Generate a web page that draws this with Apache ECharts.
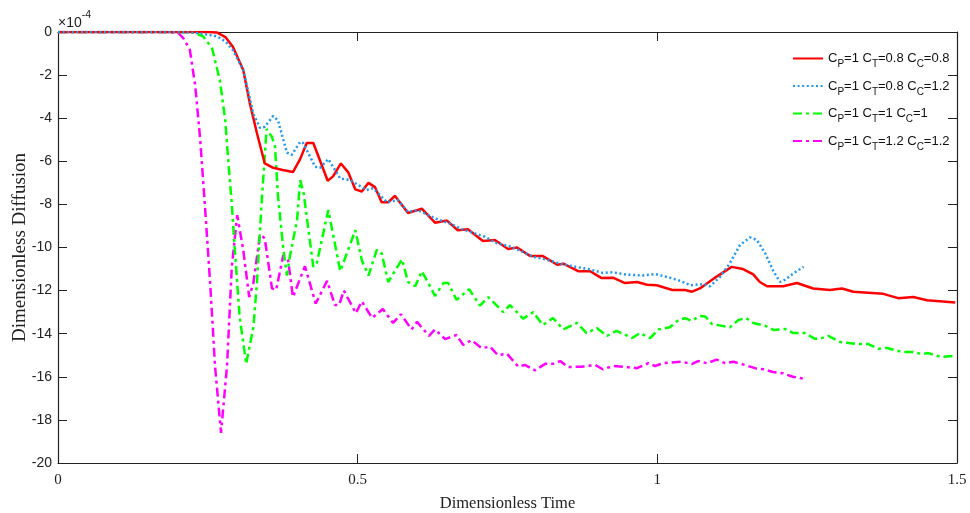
<!DOCTYPE html>
<html>
<head>
<meta charset="utf-8">
<script src="https://cdn.jsdelivr.net/npm/echarts@6/dist/echarts.min.js"></script>
<style>
html,body{margin:0;padding:0;background:#fff;}
#c{width:970px;height:513px;}
</style>
</head>
<body>
<div id="c"></div>
<script>
// Legend names (C_X marks a subscript)
var names = [
  'C_P=1 C_T=0.8 C_C=0.8',
  'C_P=1 C_T=0.8 C_C=1.2',
  'C_P=1 C_T=1 C_C=1',
  'C_P=1 C_T=1.2 C_C=1.2'
];
var xTicks = [0, 0.5, 1, 1.5];
var yTicks = [0, -2, -4, -6, -8, -10, -12, -14, -16, -18, -20];

// Series 1 (red, solid)
var tRed = [0,0.25,0.265,0.28,0.292,0.309,0.320,0.332,0.345,0.359,0.375,0.392,0.404,0.415,0.426,0.45,0.459,0.472,0.484,0.496,0.507,0.518,0.529,0.540,0.551,0.562,0.584,0.607,0.629,0.649,0.667,0.684,0.709,0.729,0.751,0.766,0.788,0.809,0.833,0.843,0.868,0.888,0.907,0.926,0.946,0.966,0.983,0.999,1.025,1.046,1.058,1.071,1.099,1.124,1.143,1.160,1.171,1.183,1.21,1.233,1.26,1.288,1.308,1.327,1.377,1.402,1.427,1.45,1.497];
var vRed = [0,0,-0.02,-0.25,-0.7,-1.76,-3.3,-4.7,-6.1,-6.3,-6.4,-6.5,-5.9,-5.15,-5.15,-6.9,-6.7,-6.1,-6.5,-7.3,-7.4,-7.0,-7.2,-7.9,-7.9,-7.6,-8.4,-8.2,-8.85,-8.75,-9.2,-9.15,-9.7,-9.65,-10.07,-10.0,-10.4,-10.4,-10.8,-10.75,-11.1,-11.1,-11.42,-11.4,-11.65,-11.6,-11.73,-11.75,-11.97,-11.97,-12.05,-11.9,-11.35,-10.9,-11.0,-11.25,-11.6,-11.8,-11.8,-11.65,-11.9,-11.97,-11.9,-12.05,-12.15,-12.35,-12.3,-12.45,-12.55];

// Series 2 (blue, dotted)
var tBlue = [0,0.2,0.225,0.245,0.265,0.28,0.292,0.309,0.326,0.337,0.345,0.359,0.367,0.382,0.390,0.404,0.409,0.429,0.437,0.451,0.471,0.487,0.515,0.526,0.549,0.567,0.584,0.601,0.633,0.651,0.674,0.687,0.712,0.732,0.754,0.771,0.793,0.813,0.838,0.86,0.885,0.909,0.926,0.949,0.976,0.996,1.021,1.038,1.055,1.077,1.088,1.105,1.121,1.138,1.155,1.166,1.18,1.194,1.205,1.213,1.227,1.244];
var vBlue = [0,0,-0.03,-0.1,-0.2,-0.45,-0.85,-1.76,-3.8,-4.45,-4.4,-3.9,-4.1,-5.6,-5.7,-5.1,-5.15,-6.25,-6.3,-5.9,-6.8,-6.87,-7.33,-7.25,-7.9,-7.8,-8.35,-8.27,-8.7,-8.85,-9.15,-9.27,-9.5,-9.8,-9.95,-10.15,-10.43,-10.55,-10.75,-10.88,-11.0,-11.18,-11.15,-11.26,-11.3,-11.23,-11.4,-11.55,-11.75,-11.7,-11.8,-11.35,-10.73,-9.88,-9.53,-9.65,-10.27,-11.12,-11.6,-11.5,-11.2,-10.9];

// Series 3 (green, dash-dot)
var tGreen = [0,0.2,0.225,0.242,0.257,0.27,0.279,0.284,0.29,0.295,0.303,0.314,0.326,0.332,0.34,0.348,0.357,0.362,0.367,0.376,0.382,0.387,0.399,0.404,0.41,0.426,0.432,0.451,0.471,0.496,0.507,0.518,0.532,0.54,0.551,0.574,0.584,0.596,0.607,0.618,0.629,0.643,0.651,0.665,0.686,0.704,0.718,0.743,0.754,0.776,0.793,0.809,0.826,0.843,0.866,0.882,0.899,0.916,0.932,0.958,0.971,0.988,1.002,1.021,1.035,1.046,1.057,1.071,1.08,1.091,1.121,1.135,1.148,1.16,1.18,1.194,1.213,1.227,1.246,1.263,1.271,1.285,1.305,1.333,1.352,1.369,1.383,1.408,1.427,1.441,1.452,1.474,1.497];
var vGreen = [0,0,-0.02,-0.2,-0.75,-2.23,-4.08,-5.94,-8.0,-10.1,-13.2,-15.4,-13.7,-11.6,-7.8,-4.5,-4.87,-5.3,-7.6,-10.1,-11.3,-10.4,-8.7,-6.87,-7.5,-10.9,-10.7,-8.26,-11.1,-9.2,-10.6,-11.3,-10.1,-10.27,-11.6,-10.55,-11.6,-11.8,-11.1,-11.65,-12.25,-11.65,-11.65,-12.43,-11.93,-12.7,-12.3,-13.0,-12.67,-13.3,-13.0,-13.6,-13.27,-13.8,-13.5,-13.97,-13.74,-14.1,-13.87,-14.2,-13.97,-14.2,-13.8,-13.7,-13.37,-13.28,-13.4,-13.18,-13.2,-13.55,-13.7,-13.37,-13.27,-13.5,-13.63,-13.83,-13.78,-13.97,-13.97,-14.24,-14.24,-14.1,-14.38,-14.48,-14.48,-14.7,-14.66,-14.85,-14.85,-14.94,-14.9,-15.08,-15.03];

// Series 4 (magenta, dash-dot)
var tMag = [0,0.18,0.2,0.209,0.22,0.229,0.237,0.245,0.254,0.262,0.272,0.282,0.29,0.299,0.309,0.319,0.326,0.337,0.345,0.357,0.364,0.376,0.384,0.392,0.412,0.43,0.449,0.462,0.469,0.477,0.497,0.507,0.524,0.542,0.559,0.572,0.59,0.599,0.619,0.629,0.646,0.665,0.676,0.69,0.707,0.721,0.734,0.749,0.768,0.779,0.796,0.813,0.826,0.838,0.851,0.874,0.896,0.909,0.926,0.949,0.966,0.985,0.996,1.01,1.04,1.058,1.068,1.083,1.099,1.113,1.127,1.146,1.163,1.177,1.193,1.21,1.226,1.246];
var vMag = [0,0,-0.03,-0.28,-0.83,-2.5,-4.9,-8.0,-11.7,-15.5,-18.6,-15.5,-10.9,-8.5,-10.1,-12.3,-11.66,-9.4,-9.57,-11.9,-11.97,-10.35,-10.6,-12.3,-10.87,-12.6,-11.55,-12.67,-12.67,-12.0,-13.05,-12.5,-13.27,-12.85,-13.5,-13.1,-13.8,-13.45,-14.1,-13.8,-14.25,-14.06,-14.52,-14.3,-14.67,-14.6,-15.0,-14.93,-15.53,-15.45,-15.7,-15.4,-15.4,-15.27,-15.55,-15.53,-15.45,-15.65,-15.5,-15.55,-15.6,-15.37,-15.5,-15.37,-15.3,-15.4,-15.27,-15.37,-15.2,-15.37,-15.3,-15.45,-15.6,-15.65,-15.78,-15.84,-16.0,-16.1];

function zip(t, v){ var out=[]; for (var i=0;i<t.length;i++) out.push([t[i], v[i]]); return out; }

function richName(name){
  return name.split(' ').map(function(part){
    var m = part.match(/^C_(\w)(.*)$/);
    return '{n|C}{s|' + m[1] + '}{n|' + m[2] + '}';
  }).join('{n| }');
}

var chart = echarts.init(document.getElementById('c'), null, {renderer:'canvas'});
var tickStyle = {show:true, inside:true, length:9, lineStyle:{color:'#222', width:1}};
var lineStyleAx = {show:true, onZero:false, lineStyle:{color:'#222', width:1.2}};

var option = {
  animation:false,
  backgroundColor:'#fff',
  grid:{left:58, top:32, right:13, bottom:50, containLabel:false, outerBoundsMode:'none'},
  xAxis:[{
    type:'value', min:0, max:1.5, interval:0.5, position:'bottom',
    axisLine:lineStyleAx, axisTick:tickStyle, splitLine:{show:false},
    axisLabel:{color:'#222', fontFamily:'Liberation Serif', fontSize:15, margin:10,
      formatter:function(v){ return xTicks.indexOf(v)>=0 ? String(v) : ''; }},
    name:'Dimensionless Time', nameLocation:'middle', nameGap:32, nameMoveOverlap:false,
    nameTextStyle:{color:'#222', fontFamily:'Liberation Serif', fontSize:16.5}
  },{
    type:'value', min:0, max:1.5, interval:0.5, position:'top',
    axisLine:lineStyleAx, axisTick:tickStyle, axisLabel:{show:false}, splitLine:{show:false}
  }],
  yAxis:[{
    type:'value', min:-20, max:0, interval:2, position:'left',
    axisLine:lineStyleAx, axisTick:tickStyle, splitLine:{show:false},
    axisLabel:{color:'#222', fontFamily:'Liberation Sans', fontSize:14, margin:6,
      formatter:function(v){ return yTicks.indexOf(v)>=0 ? String(v) : ''; }},
    name:'Dimensionless Diffusion', nameLocation:'middle', nameGap:28, nameRotate:90, nameMoveOverlap:false,
    nameTextStyle:{color:'#222', fontFamily:'Liberation Serif', fontSize:19}
  },{
    type:'value', min:-20, max:0, interval:2, position:'right',
    axisLine:lineStyleAx, axisTick:tickStyle, axisLabel:{show:false}, splitLine:{show:false}
  }],
  legend:{
    orient:'vertical', left:787, top:47, itemWidth:30, itemHeight:12, itemGap:10,
    data:names,
    itemStyle:{opacity:0, color:'transparent', borderWidth:0},
    formatter:function(name){ return richName(name); },
    textStyle:{
      color:'#111',
      rich:{
        n:{fontFamily:'Liberation Sans', fontSize:13, lineHeight:22, verticalAlign:'middle', color:'#111'},
        s:{fontFamily:'Liberation Sans', fontSize:10, lineHeight:10, verticalAlign:'bottom', color:'#111'}
      }
    }
  },
  graphic:[{
    type:'text', left:58, top:10,
    style:{
      text:'{a|×10}{b|-4}',
      rich:{
        a:{fontFamily:'Liberation Sans', fontSize:14, fill:'#222', lineHeight:20, verticalAlign:'bottom'},
        b:{fontFamily:'Liberation Sans', fontSize:10.5, fill:'#222', lineHeight:20, verticalAlign:'top'}
      }
    }
  }],
  series:[
    {name:names[0], type:'line', symbol:'none', data:zip(tRed, vRed), z:4,
     lineStyle:{color:'#ff0000', width:2.5, type:'solid'}, itemStyle:{color:'#ff0000'}},
    {name:names[1], type:'line', symbol:'none', data:zip(tBlue, vBlue), z:5,
     lineStyle:{color:'#1e98f0', width:2.5, type:[2,2.6]}, itemStyle:{color:'#1e98f0'}},
    {name:names[2], type:'line', symbol:'none', data:zip(tGreen, vGreen), z:3,
     lineStyle:{color:'#00ff00', width:2.5, type:[9,4,3,4]}, itemStyle:{color:'#00ff00'}},
    {name:names[3], type:'line', symbol:'none', data:zip(tMag, vMag), z:2,
     lineStyle:{color:'#ff00ff', width:2.5, type:[9,4,3,4]}, itemStyle:{color:'#ff00ff'}}
  ]
};
chart.setOption(option);
</script>
</body>
</html>
